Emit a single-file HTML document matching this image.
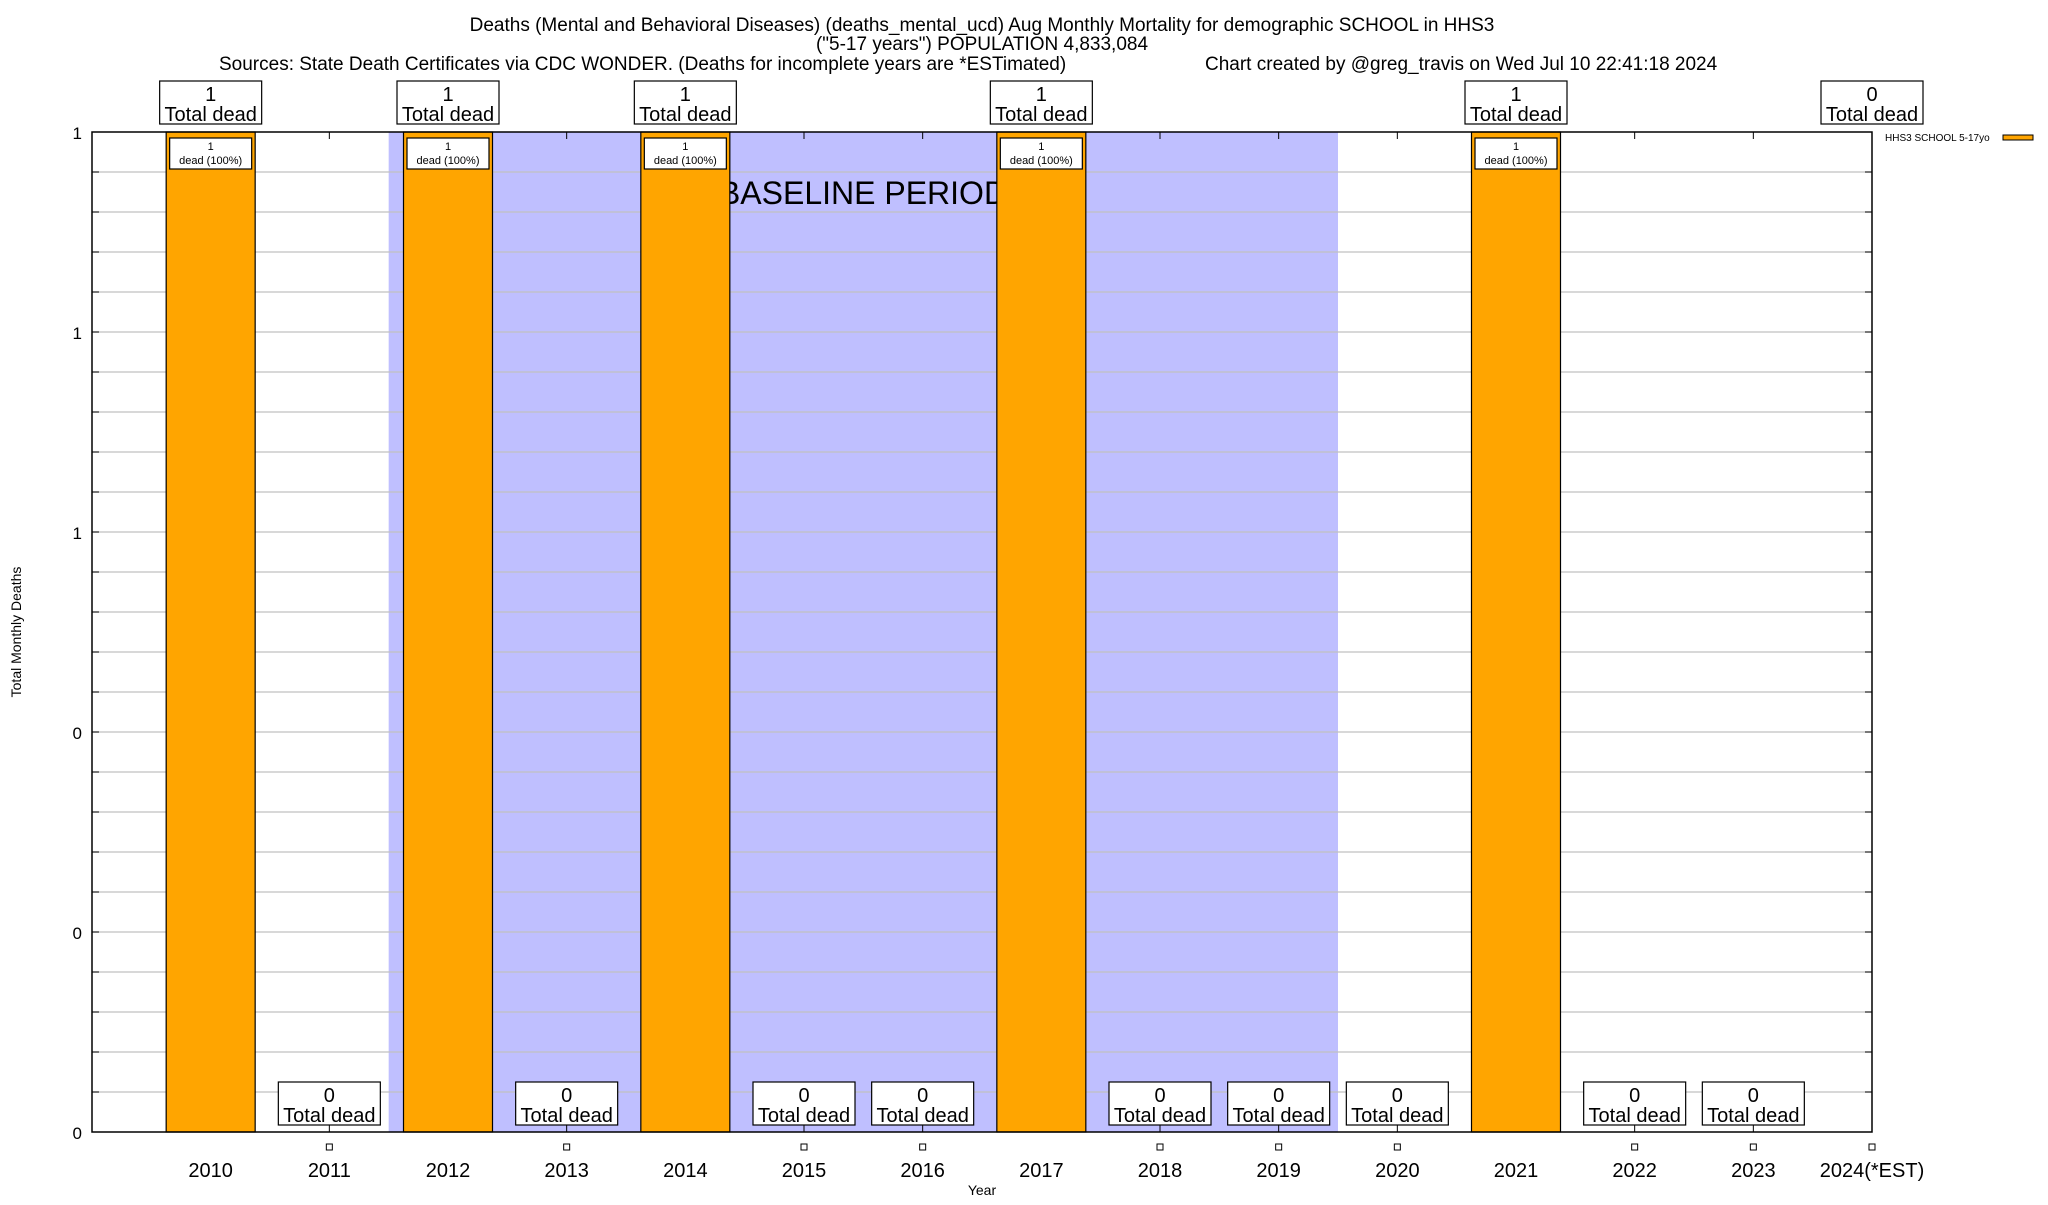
<!DOCTYPE html>
<html><head><meta charset="utf-8"><style>
body{margin:0;background:#fff;width:2048px;height:1200px;overflow:hidden;font-family:"Liberation Sans",Arial,sans-serif}
svg text{font-family:"Liberation Sans",Arial,sans-serif}
</style></head><body>
<svg id="chart" width="2048" height="1200" xmlns="http://www.w3.org/2000/svg">
<g>
<text x="982" y="31" font-size="19" text-anchor="middle">Deaths (Mental and Behavioral Diseases) (deaths_mental_ucd) Aug Monthly Mortality for demographic SCHOOL in HHS3</text>
<text x="982" y="50" font-size="19" text-anchor="middle">("5-17 years") POPULATION 4,833,084</text>
<text x="219" y="70" font-size="19">Sources: State Death Certificates via CDC WONDER. (Deaths for incomplete years are *ESTimated)</text>
<text x="1205" y="70" font-size="19">Chart created by @greg_travis on Wed Jul 10 22:41:18 2024</text>
</g>
<g id="plot"></g>
</svg>
<script>
const categories = ["2010","2011","2012","2013","2014","2015","2016","2017","2018","2019","2020","2021","2022","2023","2024(*EST)"];
const deaths = [1,0,1,0,1,0,0,1,0,0,0,1,0,0,0];
const yTickValues = [0,0.2,0.4,0.6,0.8,1.0];
const yTickLabels = ["0","0","0","1","1","1"];
const baselineStart = 1.5, baselineEnd = 9.5;

const L=92,R=1872,T=132,B=1132;
const xs = i => L + (i+1)*(R-L)/15;
const ys = v => B - v*(B-T);
const bw = (R-L)/15*0.75;
const NS="http://www.w3.org/2000/svg";
const g=document.getElementById('plot');
function mk(tag,attrs,parent){const e=document.createElementNS(NS,tag);for(const k in attrs)e.setAttribute(k,attrs[k]);(parent||g).appendChild(e);return e;}

// baseline shading
let sh=mk('rect',{x:xs(baselineStart),y:T,width:xs(baselineEnd)-xs(baselineStart),height:B-T,fill:'#bfbfff'});


// gridlines
for(let k=1;k<25;k++){const v=k*0.04;const y=ys(v);
 let gl=mk('line',{x1:L,x2:R,y1:y,y2:y,stroke:'#c0c0c0','stroke-width':1.3});
 
 
 mk('line',{x1:L,x2:L+7,y1:y,y2:y,stroke:'#000'});mk('line',{x1:R-7,x2:R,y1:y,y2:y,stroke:'#000'});
}
let bt=mk('text',{x:863,y:204,'font-size':32,'text-anchor':'middle'});bt.textContent='BASELINE PERIOD';


// y ticks
yTickValues.forEach((v,i)=>{let t=mk('text',{x:82,y:ys(v)+7,'font-size':17,'text-anchor':'end'});t.textContent=yTickLabels[i];
 
 });
// bars
categories.forEach((c,i)=>{
 const x=xs(i),v=deaths[i];
 mk('line',{x1:x,x2:x,y1:T,y2:T+7,stroke:'#000'});
 if(v>0){
  let b=mk('rect',{x:x-bw/2,y:ys(v),width:bw,height:B-ys(v),fill:'#ffa500',stroke:'#000','stroke-width':1.2});
  
  
  mk('rect',{x:x-41,y:ys(v)+6,width:82,height:31,fill:'#fff',stroke:'#000','stroke-width':1.2});
  let t1=mk('text',{x:x,y:ys(v)+18,'font-size':11,'text-anchor':'middle'});t1.textContent=String(v);
  let t2=mk('text',{x:x,y:ys(v)+32,'font-size':11,'text-anchor':'middle'});t2.textContent='dead (100%)';
  
  
 } else {
  mk('line',{x1:x,x2:x,y1:B-7,y2:B,stroke:'#000'});
  let sq=mk('rect',{x:x-3,y:1144,width:6,height:6,fill:'#fff',stroke:'#000','stroke-width':1});
  
  
 }
 const top = (v>0 || i===categories.length-1);
 const by = top ? 81 : 1082;
 let bx=mk('rect',{x:x-51,y:by,width:102,height:43,fill:'#fff',stroke:'#000','stroke-width':1.2});
 
 
 let a=mk('text',{x:x,y:by+20,'font-size':20,'text-anchor':'middle'});a.textContent=String(v);
 let b2=mk('text',{x:x,y:by+40,'font-size':20,'text-anchor':'middle'});b2.textContent='Total dead';
 let xl=mk('text',{x:x,y:1177,'font-size':20,'text-anchor':'middle'});xl.textContent=c;
 
 
});
let fr=mk('rect',{x:L,y:T,width:R-L,height:B-T,fill:'none',stroke:'#000','stroke-width':1.5});


let xt=mk('text',{x:982,y:1195,'font-size':14,'text-anchor':'middle'});xt.textContent='Year';


let yt=mk('text',{x:21,y:632,'font-size':14,'text-anchor':'middle',transform:'rotate(-90 21 632)'});yt.textContent='Total Monthly Deaths';


let lg=mk('text',{x:1885,y:141,'font-size':10});lg.textContent='HHS3 SCHOOL 5-17yo';


let ls=mk('rect',{x:2003,y:135,width:30,height:5,fill:'#ffa500',stroke:'#000','stroke-width':1});


</script>
</body></html>
